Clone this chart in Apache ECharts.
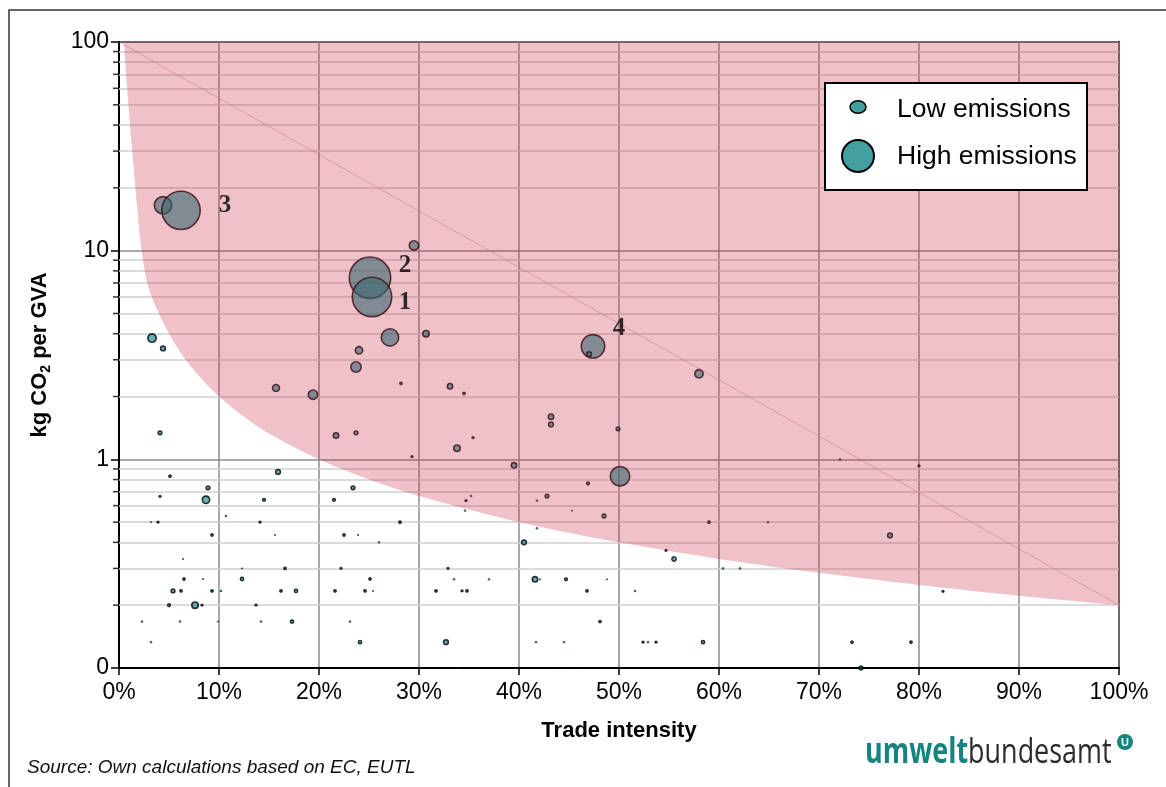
<!DOCTYPE html>
<html><head><meta charset="utf-8">
<script src="https://cdn.jsdelivr.net/npm/echarts@6/dist/echarts.min.js"></script>
<style>html,body{margin:0;padding:0;background:#fff;} #c{width:1166px;height:787px;}</style>
</head><body><div id="c"></div>
<script>
// ---- data ----
const tradeIntensity = [4.4,6.2,25.1,25.3,29.5,27.1,30.7,24.0,23.7,3.3,4.4,15.7,19.4,4.1,21.7,23.7,5.1,15.9,8.9,23.4,4.1,8.7,14.5,21.5,3.2,3.9,10.7,14.1,9.3,15.6,6.4,6.5,8.4,12.3,12.3,16.6,5.4,6.2,9.3,10.2,16.2,17.7,21.6,24.6,25.4,5.0,7.6,8.3,13.7,22.2,25.1,26.0,23.9,22.5,2.3,6.1,9.9,14.2,17.3,23.1,3.2,24.1,28.1,28.2,33.1,34.5,43.2,43.2,49.9,35.4,33.8,29.3,39.5,50.1,46.9,42.8,35.2,34.7,41.8,34.6,45.3,48.5,41.8,40.5,54.7,55.5,32.9,33.5,37.0,41.6,42.1,44.7,48.8,31.7,34.3,34.8,46.8,51.6,48.1,32.7,41.7,44.5,52.4,52.9,53.7,47.4,47.0,58.0,72.1,80.0,59.0,64.9,77.1,60.4,62.1,82.4,58.4,73.3,79.2,74.2,75.3,33.8,44.1,46.1];
const emissionIntensity = [16.5,15.6,7.42,6.0,10.6,3.84,4.0,3.33,2.77,3.81,3.40,2.20,2.04,1.34,1.30,1.34,0.83,0.87,0.73,0.73,0.665,0.64,0.64,0.64,0.50,0.50,0.535,0.50,0.434,0.434,0.333,0.267,0.267,0.267,0.30,0.30,0.234,0.234,0.234,0.234,0.234,0.234,0.234,0.234,0.234,0.20,0.20,0.20,0.20,0.30,0.267,0.40,0.434,0.434,0.167,0.167,0.167,0.167,0.167,0.167,0.133,0.133,0.50,2.31,2.24,2.07,1.60,1.47,1.40,1.27,1.13,1.03,0.936,0.83,0.767,0.667,0.667,0.634,0.634,0.568,0.568,0.535,0.467,0.40,0.366,0.333,0.30,0.266,0.266,0.266,0.266,0.266,0.266,0.234,0.234,0.234,0.234,0.234,0.167,0.133,0.133,0.133,0.133,0.133,0.133,3.48,3.19,2.57,1.0,0.93,0.50,0.50,0.432,0.30,0.30,0.233,0.133,0.133,0.133,0.1,0.1,0.1,0.1,0.1];
const emissions = [10.0,44.4,51.4,46.7,3.36,10.0,1.78,2.25,4.0,2.78,1.0,2.0,3.36,0.69,1.36,0.69,0.34,1.0,0.69,0.69,0.25,2.25,0.44,0.44,0.11,0.25,0.17,0.25,0.34,0.11,0.11,0.34,0.11,0.56,0.11,0.34,0.69,0.34,0.34,0.17,0.34,0.56,0.34,0.34,0.11,0.44,1.78,0.25,0.25,0.25,0.34,0.17,0.11,0.34,0.17,0.17,0.11,0.17,0.56,0.17,0.17,0.56,0.34,0.34,1.36,0.34,1.36,1.0,0.69,0.25,1.78,0.25,1.36,12.25,0.44,0.69,0.17,0.25,0.17,0.17,0.11,0.69,0.17,1.0,0.25,0.84,0.25,0.17,0.17,1.36,0.11,0.44,0.11,0.34,0.25,0.34,0.34,0.17,0.34,1.0,0.17,0.17,0.25,0.17,0.25,17.4,1.0,2.78,0.17,0.25,0.34,0.17,1.0,0.17,0.17,0.25,0.56,0.34,0.34,0.69,0.11,0.11,0.11,0.11];
const bubbleNumbers = {1:'3', 2:'2', 3:'1', 105:'4'};

// carbon-leakage boundary (upper region shaded)
const boundaryX = [0.5,0.8,1.1,1.45,1.8,2.2,2.9,4.3,6,7.5,10,12.5,15,20,25,30,40,50,60,70,80,90,100];
const boundaryY = [100,62,40,25.6,16.5,10.6,6.8,4.65,3.33,2.67,2.0,1.6,1.33,1.0,0.8,0.667,0.5,0.4,0.333,0.286,0.25,0.222,0.2];
const guideX = [0,100];
const guideY = [100,0.2];

const yMinor = [0.2,0.3,0.4,0.5,0.6,0.7,0.8,0.9,2,3,4,5,6,7,8,9,20,30,40,50,60,70,80,90];

// ---- chart ----
const FONT = '"Liberation Sans", Arial, sans-serif';
function diam(e){ return 6*Math.sqrt(e); }

const bubbleData = tradeIntensity.map((x,i)=>{
  const d = diam(emissions[i]);
  let size, bw;
  if (d > 6) { size = d - 1.6; bw = 1.6; }
  else if (d >= 2.9) { size = d - 1.2; bw = 1.5; }
  else { size = d - 0.6; bw = 0.7; }
  return { value:[x, emissionIntensity[i], emissions[i]], symbolSize:size, itemStyle:{borderWidth:bw} };
});
const labelKeys = Object.keys(bubbleNumbers);
const labelData = labelKeys.map(k=>({
  value:[tradeIntensity[k], emissionIntensity[k]], name: bubbleNumbers[k]
}));
const labelOffsets = {'3':[44,-5],'2':[35,-12],'1':[33,6],'4':[26,-18]};

const chart = echarts.init(document.getElementById('c'), null, {renderer:'canvas'});
chart.setOption({
  animation:false,
  backgroundColor:'#fff',
  grid:{left:119, right:47, top:42, bottom:119, show:true, borderColor:'#000', borderWidth:2, backgroundColor:'transparent'},
  xAxis:{
    type:'value', min:0, max:100, interval:10,
    axisLine:{show:true, onZero:false, lineStyle:{color:'#000', width:2}},
    axisTick:{show:true, length:7, lineStyle:{color:'#000', width:1.5}},
    axisLabel:{formatter:'{value}%', fontSize:23, color:'#000', fontFamily:FONT, margin:13},
    splitLine:{show:true, lineStyle:{color:'#8c8c8c', width:1.5}},
    name:'Trade intensity', nameLocation:'middle', nameGap:52,
    nameTextStyle:{fontSize:22, fontWeight:'bold', color:'#000', fontFamily:FONT}
  },
  yAxis:{
    type:'log', logBase:10, min:0.1, max:100,
    axisLine:{show:true, onZero:false, lineStyle:{color:'#000', width:2}},
    axisTick:{show:true, length:8, lineStyle:{color:'#000', width:1.5}},
    axisLabel:{formatter:v => (v < 0.5 ? '0' : String(Math.round(v))), fontSize:23, color:'#000', fontFamily:FONT, margin:10},
    splitLine:{show:true, lineStyle:{color:'#8c8c8c', width:1.5}},
    name:'{b|kg CO}{s|2}{b| per GVA}', nameLocation:'middle', nameGap:66, nameRotate:90,
    nameTextStyle:{rich:{
      b:{fontSize:22, fontWeight:'bold', color:'#000', fontFamily:FONT, lineHeight:26},
      s:{fontSize:14, fontWeight:'bold', color:'#000', fontFamily:FONT, lineHeight:14, verticalAlign:'bottom'}
    }}
  },
  series:[
    { // minor horizontal gridlines
      type:'line', data:[], silent:true,
      markLine:{silent:true, z:1, symbol:'none', label:{show:false},
        lineStyle:{color:'#cfcfcf', width:1.5, type:'solid'},
        data: yMinor.map(v=>({yAxis:v}))}
    },
    { // minor ticks on the y axis
      type:'scatter', silent:true, clip:false, z:10,
      data: yMinor.map(v=>[0,v]),
      symbol:'rect', symbolSize:[6,1.5], symbolOffset:[-3,0],
      itemStyle:{color:'#000'}
    },
    { // bubbles
      type:'scatter', z:2, clip:false,
      data: bubbleData,
      itemStyle:{color:'rgba(0,128,128,0.75)', borderColor:'#000'}
    },
    { // shaded carbon leakage region (drawn above bubbles, translucent)
      type:'line', z:5, silent:true, smooth:0.3, symbol:'none',
      data: boundaryX.map((x,i)=>[x, boundaryY[i]]),
      lineStyle:{width:0},
      areaStyle:{color:'rgba(200,40,70,0.29)', origin:'end', opacity:1}
    },
    { // diagonal guide
      type:'line', z:6, silent:true, symbol:'none',
      data: guideX.map((x,i)=>[x, guideY[i]]),
      lineStyle:{color:'rgba(215,105,130,0.5)', width:1}
    },
    { // numbers
      type:'scatter', z:8, silent:true, symbolSize:1, itemStyle:{color:'rgba(0,0,0,0)'},
      data: labelData,
      label:{show:true, position:'inside', formatter:p=>p.name,
        fontFamily:'"Liberation Serif", "Times New Roman", serif', fontWeight:'bold', fontSize:25, color:'#000'},
      labelLayout:p=>{ const o = labelOffsets[labelData[p.dataIndex].name]; return {dx:o[0], dy:o[1]}; }
    }
  ],
  graphic:[
    {type:'rect', z:100, shape:{x:9, y:10, width:1200, height:850}, style:{fill:'none', stroke:'#333', lineWidth:1.5}},
    {type:'rect', z:100, shape:{x:825, y:83, width:262, height:107}, style:{fill:'#fff', stroke:'#000', lineWidth:2}},
    {type:'ellipse', z:101, shape:{cx:858, cy:107, rx:8, ry:6.3}, style:{fill:'#44a0a0', stroke:'#000', lineWidth:1.5}},
    {type:'circle', z:101, shape:{cx:858, cy:156, r:16}, style:{fill:'#44a0a0', stroke:'#000', lineWidth:2}},
    {type:'text', z:101, x:897, y:110, scaleX:1.06, style:{text:'Low emissions', font:'25px "Liberation Sans", Arial, sans-serif', fill:'#000', verticalAlign:'middle'}},
    {type:'text', z:101, x:897, y:157, scaleX:1.06, style:{text:'High emissions', font:'25px "Liberation Sans", Arial, sans-serif', fill:'#000', verticalAlign:'middle'}},
    {type:'text', z:101, x:27, y:768, style:{text:'Source: Own calculations based on EC, EUTL', font:'italic 19px "Liberation Sans", Arial, sans-serif', fill:'#111', verticalAlign:'middle'}},
    {type:'text', z:101, x:865, y:753, scaleX:0.77, style:{
      text:'{u|umwelt}{b|bundesamt}', verticalAlign:'middle',
      rich:{u:{fontFamily:'"Open Sans", sans-serif', fontWeight:'bold', fontSize:35, fill:'#15837e'},
            b:{fontFamily:'"Open Sans", sans-serif', fontWeight:'normal', fontSize:35, fill:'#2b2b2b'}}}},
    {type:'circle', z:101, shape:{cx:1125, cy:742, r:8}, style:{fill:'#15837e'}},
    {type:'text', z:102, x:1125, y:742.5, style:{text:'U', font:'bold 11px "Liberation Sans", Arial, sans-serif', fill:'#fff', align:'center', verticalAlign:'middle'}}
  ]
});
</script></body></html>
